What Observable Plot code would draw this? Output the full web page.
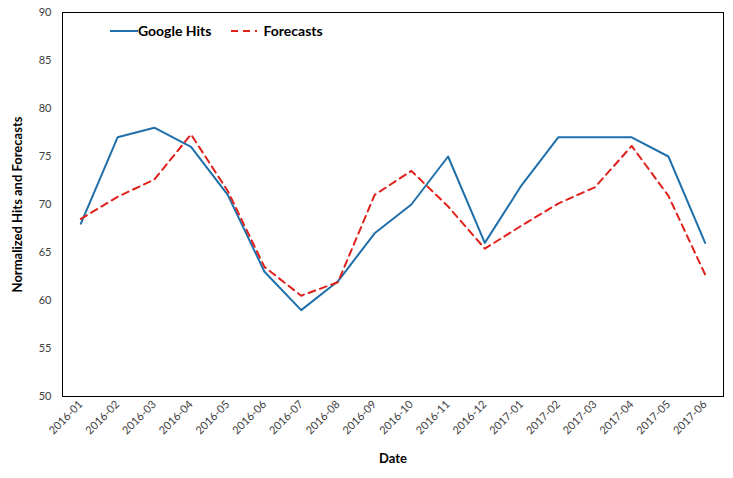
<!DOCTYPE html>
<html><head><meta charset="utf-8">
<script src="https://cdn.jsdelivr.net/npm/d3@7"></script>
<script src="https://cdn.jsdelivr.net/npm/@observablehq/plot@0.6"></script>
<style>
body{margin:0;background:#fff;font-family:Lato,"Open Sans",sans-serif;}
#wrap{position:relative;width:733px;height:478px;}
#legend{position:absolute;left:110px;top:22px;display:flex;align-items:center;font:bold 14px Lato,sans-serif;color:#000;}
#legend span{margin-right:20px;}
</style></head>
<body><div id="wrap"><div id="legend"></div></div>
<script>
const months = ["2016-01","2016-02","2016-03","2016-04","2016-05","2016-06","2016-07","2016-08","2016-09","2016-10","2016-11","2016-12","2017-01","2017-02","2017-03","2017-04","2017-05","2017-06"];
const googleHits = [68,77,78,76,71,63,59,62,67,70,75,66,72,77,77,77,75,66];
const forecasts = [68.5,70.8,72.6,77.3,71.4,63.5,60.5,61.9,71.0,73.5,69.8,65.4,67.8,70.1,71.8,76.1,70.9,62.7];
const yTicks = [50,55,60,65,70,75,80,85,90];
const seriesNames = ["Google Hits","Forecasts"];
const colors = ["#1f6faa","#e0201b"];

const rows = months.map((m,i)=>({m, g: googleHits[i], f: forecasts[i]}));

const chart = Plot.plot({
  width:733, height:478,
  marginLeft:62, marginRight:10, marginTop:12, marginBottom:82,
  style:{fontFamily:"Lato, sans-serif", fontSize:"11px", color:"#404040", background:"#fff"},
  x:{type:"point", domain:months, padding:0.5, round:false, label:null},
  y:{domain:[50,90], ticks:yTicks, label:null},
  marks:[
    Plot.frame({stroke:"#000", strokeWidth:1}),
    Plot.axisX({tickRotate:-45, tickSize:0, tickPadding:6, fontSize:11, fill:"#404040"}),
    Plot.axisY({ticks:yTicks, tickSize:0, tickPadding:11, fontSize:11, fill:"#404040"}),
    Plot.lineY(rows,{x:"m", y:"g", stroke:colors[0], strokeWidth:2}),
    Plot.lineY(rows,{x:"m", y:"f", stroke:colors[1], strokeWidth:2, strokeDasharray:"7,5"}),
    Plot.text(["Date"],{frameAnchor:"bottom", dy:66, text:d=>d, fontWeight:"bold", fontSize:13, fill:"#000"}),
    Plot.text(["Normalized Hits and Forecasts"],{frameAnchor:"left", textAnchor:"middle", dx:-45, rotate:-90, text:d=>d, fontWeight:"bold", fontSize:13, fill:"#000"})
  ]
});
document.getElementById("wrap").prepend(chart);

const leg = document.getElementById("legend");
leg.innerHTML =
  `<svg width="28" height="10"><line x1="0" x2="28" y1="5" y2="5" stroke="${colors[0]}" stroke-width="2"/></svg><span>${seriesNames[0]}</span>` +
  `<svg width="26" height="10" style="margin-right:6px"><line x1="0" x2="26" y1="5" y2="5" stroke="${colors[1]}" stroke-width="2" stroke-dasharray="7,5"/></svg><span>${seriesNames[1]}</span>`;
</script></body></html>
